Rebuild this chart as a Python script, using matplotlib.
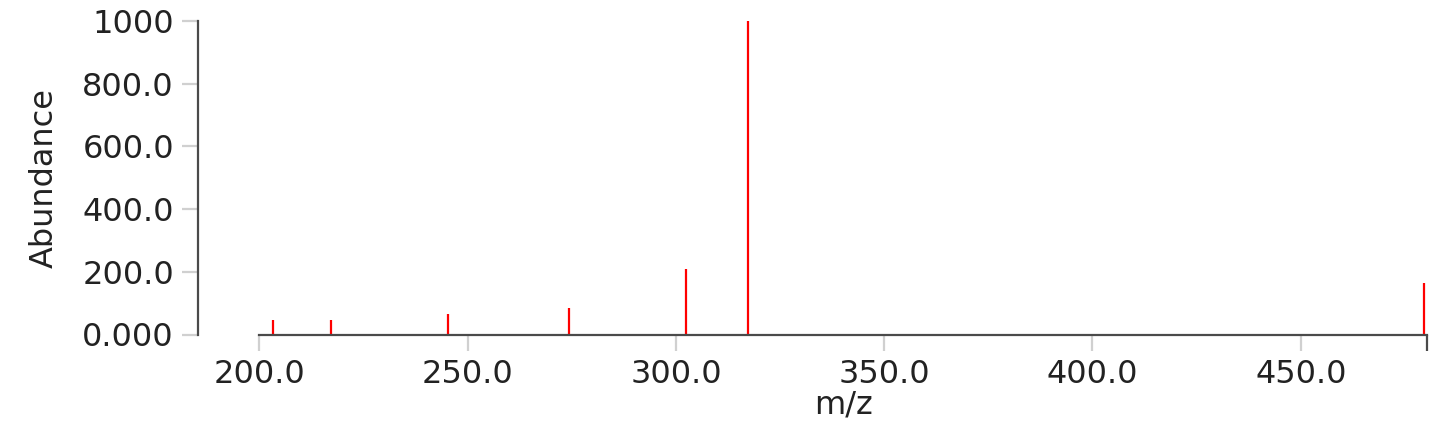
import matplotlib
matplotlib.use("Agg")
import matplotlib.pyplot as plt
import matplotlib.ticker as mtick

# peaks
mz = [203.2, 217.3, 245.4, 274.3, 302.4, 317.4, 479.5]
abundance = [47, 47, 64, 83, 208, 1000, 164]
x_ticks = [200, 250, 300, 350, 400, 450]
y_ticks = [0, 200, 400, 600, 800, 1000]
x_range = (200, 480.3)
y_range = (0, 1000)

dark = '#4a4a4a'
light = '#d0d0d0'
text_c = '#222222'
fs = 23

def sig4(v, pos=None):
    s = format(v, '#.4g')
    return s.rstrip('.')

W, H, dpi = 1456, 428, 100
fig = plt.figure(figsize=(W / dpi, H / dpi), dpi=dpi)
ax = fig.add_axes([259.3 / W, (H - 334.5) / H, (1427 - 259.3) / W, (334.5 - 21) / H])

ax.vlines(mz, 0, abundance, colors='#ff0000', linewidth=1.6)

ax.set_xlim(*x_range)
ax.set_ylim(*y_range)
ax.set_xticks(x_ticks)
ax.set_yticks(y_ticks)
ax.xaxis.set_major_formatter(mtick.FuncFormatter(sig4))
ax.yaxis.set_major_formatter(mtick.FuncFormatter(sig4))
ax.xaxis.set_minor_locator(mtick.FixedLocator([x_range[1]]))

for s in ['top', 'right']:
    ax.spines[s].set_visible(False)
ax.spines['left'].set_position(('outward', 61 * 72 / dpi))
for s in ['left', 'bottom']:
    ax.spines[s].set_color(dark)
    ax.spines[s].set_linewidth(1.6)

tick_len = 16 * 72 / dpi
ax.tick_params(axis='both', which='major', length=tick_len, width=1.6, color=light,
               labelsize=fs, labelcolor=text_c, pad=6)
ax.tick_params(axis='x', which='minor', length=tick_len, width=1.6, color=dark)

fig.canvas.draw()
yt = ax.yaxis.get_major_ticks()
yt[0].tick1line.set_color(dark)
yt[-1].tick1line.set_color(dark)
ax.xaxis.get_major_ticks()[0].tick1line.set_color(dark)

ax.set_xlabel('m/z', fontsize=fs, color=text_c, labelpad=0)
ax.set_ylabel('Abundance', fontsize=fs, color=text_c, labelpad=16)

fig.savefig('out.png', dpi=dpi)
